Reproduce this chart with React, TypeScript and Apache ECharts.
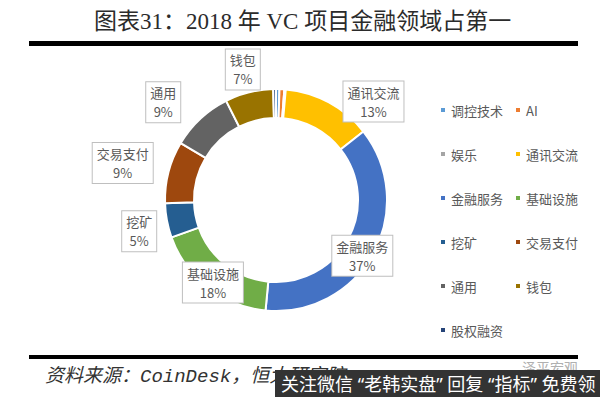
import React, { useEffect, useRef } from "react";
import * as echarts from "echarts";

const titleText = "图表31：2018 年 VC 项目金融领域占第一";
const sourceText = "资料来源：CoinDesk，恒大研究院";
const watermarkText = "关注微信 “老韩实盘” 回复 “指标” 免费领";
const faintMark = "泽平宏观";

const categories = ["调控技术", "AI", "娱乐", "通讯交流", "金融服务", "基础设施", "挖矿", "交易支付", "通用", "钱包", "股权融资"];
const shares = [0.5, 0.7, 0.2, 13, 37, 18, 5, 9, 9, 7, 0.4];
const colors = ["#5B9BD5", "#ED7D31", "#A5A5A5", "#FFC000", "#4472C4", "#70AD47", "#255E91", "#9E480E", "#636363", "#997300", "#264478"];
const showLabel = [false, false, false, true, true, true, true, true, true, true, false];
const labelShift: [number, number][] = [[0, 0], [0, 0], [0, 0], [50, -11], [-1, 8], [-2, 4], [-39, 13], [-57, -12], [-45, -25], [-9, -34], [0, 0]];

const cjk = "'Noto Sans CJK SC', 'Noto Sans', sans-serif";

export default function App() {
  const ref = useRef<HTMLDivElement>(null);
  useEffect(() => {
    document.body.style.margin = "0";
    const chart = echarts.init(ref.current!, null, { renderer: "svg" });
    const data = categories.map((name, i) => ({
      name,
      value: shares[i],
      itemStyle: { color: colors[i] },
      label: { show: showLabel[i] },
    }));
    const legendBase = {
      orient: "vertical",
      top: 97,
      itemGap: 28,
      itemWidth: 6,
      itemHeight: 6,
      icon: "rect",
      selectedMode: false,
      textStyle: { color: "#595959", fontSize: 13, fontFamily: cjk, lineHeight: 16 },
    };
    chart.setOption({
      animation: false,
      backgroundColor: "#ffffff",
      legend: [
        { ...legendBase, left: 434, data: categories.filter((_, i) => i % 2 === 0) },
        { ...legendBase, left: 509, data: categories.filter((_, i) => i % 2 === 1) },
      ],
      series: [
        {
          type: "pie",
          center: [276, 200],
          radius: [82, 111],
          startAngle: 90,
          clockwise: true,
          avoidLabelOverlap: false,
          emphasis: { disabled: true },
          itemStyle: { borderColor: "#ffffff", borderWidth: 2 },
          label: {
            position: "inside",
            formatter: (p: any) => `${p.name}\n${Math.round(p.percent)}%`,
            color: "#595959",
            fontSize: 13,
            lineHeight: 19,
            fontFamily: cjk,
            backgroundColor: "#ffffff",
            borderColor: "#bfbfbf",
            borderWidth: 1,
            padding: [1, 4, 1, 4],
            align: "center",
          },
          labelLine: { show: false },
          labelLayout: (p: any) => ({ dx: labelShift[p.dataIndex][0], dy: labelShift[p.dataIndex][1] }),
          data,
        },
      ],
      graphic: [
        {
          type: "text",
          x: 94,
          y: 21,
          style: { text: titleText, fontSize: 23, fontFamily: "'Liberation Serif', 'Noto Sans CJK SC', serif", fill: "#2b2b2b", verticalAlign: "middle" },
        },
        { type: "rect", shape: { x: 29, y: 41, width: 549, height: 5 }, style: { fill: "#000000" } },
        { type: "rect", shape: { x: 29, y: 355, width: 549, height: 4 }, style: { fill: "#000000" } },
        {
          type: "text",
          x: 45,
          y: 377,
          style: { text: sourceText, fontSize: 19, fontStyle: "italic", fontFamily: "'Liberation Mono', 'Noto Sans CJK SC', monospace", fill: "#333333", verticalAlign: "middle" },
        },
        {
          type: "text",
          x: 522,
          y: 367,
          style: { text: faintMark, fontSize: 14, fontFamily: cjk, fill: "#b0b0b0", verticalAlign: "middle" },
        },
        { type: "rect", shape: { x: 275, y: 370, width: 325, height: 27 }, style: { fill: "#333333" } },
        {
          type: "text",
          x: 281,
          y: 384,
          style: { text: watermarkText, fontSize: 18, fontFamily: "'Noto Sans', 'Noto Sans CJK SC', sans-serif", fill: "#ffffff", verticalAlign: "middle" },
        },
      ],
    });
    return () => chart.dispose();
  }, []);
  return <div ref={ref} style={{ width: 600, height: 397 }} />;
}
